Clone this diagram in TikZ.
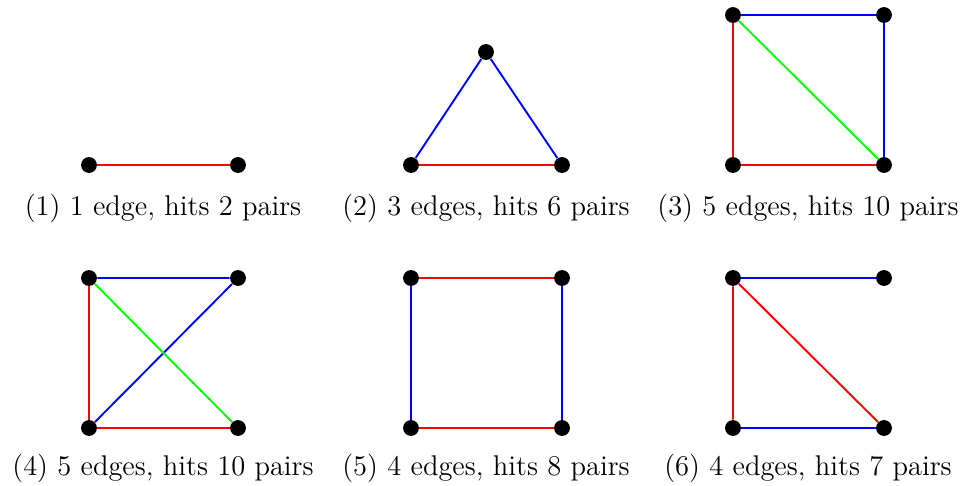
\documentclass[tikz,border=0pt]{standalone}
\usepackage{tikz}
\usetikzlibrary{positioning}

\begin{document}
\begin{tikzpicture}[x=0.0148cm, y=-0.0148cm,
    vert/.style={circle, fill=black, inner sep=0pt, minimum size=0.235cm},
    edgeline/.style={line width=0.8pt},
    caption/.style={font=\large, inner sep=0pt}]
  \useasboundingbox (0,0) rectangle (967,486);

  % (1) single edge
  \node[vert] (p1a) at (89,165) {};
  \node[vert] (p1b) at (238,165) {};
  \draw[edgeline, red] (p1a) -- (p1b);
  \node[caption] (cap1) at (163,208) {(1) 1 edge, hits 2 pairs};

  % (2) triangle
  \node[vert] (p2a) at (411,165) {};
  \node[vert] (p2b) at (562,165) {};
  \node[vert] (p2c) at (486,52) {};
  \draw[edgeline, red] (p2a) -- (p2b);
  \draw[edgeline, blue] (p2a) -- (p2c) -- (p2b);
  \node[caption] (cap2) at (486,208) {(2) 3 edges, hits 6 pairs};

  % (3) square with one diagonal
  \node[vert] (p3a) at (733,15) {};
  \node[vert] (p3b) at (884,15) {};
  \node[vert] (p3c) at (733,165) {};
  \node[vert] (p3d) at (884,165) {};
  \draw[edgeline, blue] (p3a) -- (p3b) -- (p3d);
  \draw[edgeline, red] (p3a) -- (p3c) -- (p3d);
  \draw[edgeline, green] (p3a) -- (p3d);
  \node[caption] (cap3) at (808,208) {(3) 5 edges, hits 10 pairs};

  % (4) crossing diagonals
  \node[vert] (p4a) at (89,278) {};
  \node[vert] (p4b) at (238,278) {};
  \node[vert] (p4c) at (89,428) {};
  \node[vert] (p4d) at (238,428) {};
  \draw[edgeline, blue] (p4a) -- (p4b) -- (p4c);
  \draw[edgeline, red] (p4a) -- (p4c) -- (p4d);
  \draw[edgeline, green] (p4a) -- (p4d);
  \node[caption] (cap4) at (163,468) {(4) 5 edges, hits 10 pairs};

  % (5) square
  \node[vert] (p5a) at (411,278) {};
  \node[vert] (p5b) at (562,278) {};
  \node[vert] (p5c) at (411,428) {};
  \node[vert] (p5d) at (562,428) {};
  \draw[edgeline, red] (p5a) -- (p5b);
  \draw[edgeline, red] (p5c) -- (p5d);
  \draw[edgeline, blue] (p5a) -- (p5c);
  \draw[edgeline, blue] (p5b) -- (p5d);
  \node[caption] (cap5) at (486,468) {(5) 4 edges, hits 8 pairs};

  % (6) path with diagonal
  \node[vert] (p6a) at (733,278) {};
  \node[vert] (p6b) at (884,278) {};
  \node[vert] (p6c) at (733,428) {};
  \node[vert] (p6d) at (884,428) {};
  \draw[edgeline, blue] (p6a) -- (p6b);
  \draw[edgeline, blue] (p6c) -- (p6d);
  \draw[edgeline, red] (p6c) -- (p6a) -- (p6d);
  \node[caption] (cap6) at (808,468) {(6) 4 edges, hits 7 pairs};
\end{tikzpicture}
\end{document}
